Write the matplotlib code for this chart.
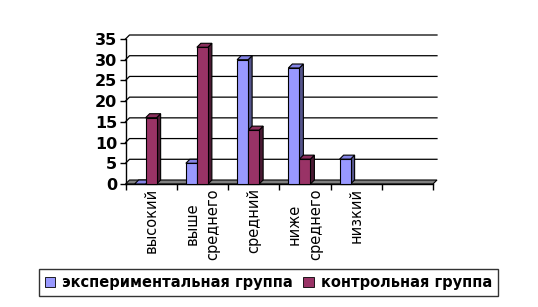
import matplotlib.pyplot as plt
from matplotlib.patches import Polygon, Patch

categories = ["высокий", "выше\nсреднего", "средний", "ниже\nсреднего", "низкий", ""]
exp_group = [0, 5, 30, 28, 6, None]
ctrl_group = [16, 33, 13, 6, None, None]
series_names = ["экспериментальная группа", "контрольная группа"]
yticks = [0, 5, 10, 15, 20, 25, 30, 35]

# face, top, side colours for each series
blue = ("#9999ff", "#8585e6", "#55558c")
red = ("#993366", "#8a2e5c", "#4a1a33")

fig = plt.figure(figsize=(5.38, 3.07), dpi=100)
ax = fig.add_axes([125.5 / 538, 1 - 184 / 307, (433 - 125.5) / 538, 145 / 307])
ax.set_xlim(-0.5, len(categories) - 0.5)
ax.set_ylim(0, 35)
for s in ax.spines.values():
    s.set_visible(False)

# depth of the 3d effect, in data units (about 4 px)
ddx = 4 / 51.25
ddy = 4 * 35 / 145
n = len(categories)

# back gridlines
for v in yticks[1:]:
    ax.plot([-0.5, -0.5 + ddx, n - 0.5 + ddx], [v, v + ddy, v + ddy],
            color="black", lw=0.9, clip_on=False, zorder=1)

# floor
ax.add_patch(Polygon([(-0.5, 0), (n - 0.5, 0), (n - 0.5 + ddx, ddy), (-0.5 + ddx, ddy)],
                     closed=True, facecolor="#808080", edgecolor="black", lw=0.8,
                     clip_on=False, zorder=2))

# axes lines and ticks
ax.plot([-0.5, -0.5], [0, 35], color="black", lw=1, clip_on=False, zorder=3)
ax.plot([-0.5, n - 0.5], [0, 0], color="black", lw=1, clip_on=False, zorder=3)
ax.set_yticks(yticks)
ax.set_xticks([i - 0.5 for i in range(n + 1)], minor=True)
ax.set_xticks(range(n))
ax.tick_params(axis="x", which="major", length=0, pad=3)
ax.tick_params(axis="x", which="minor", length=4, width=1, direction="out")
ax.tick_params(axis="y", length=4, width=1, direction="out", pad=2)
ax.set_xticklabels(categories, rotation=90, va="top", ha="center",
                   fontsize=10.5, family="DejaVu Sans", linespacing=1.5)
ax.set_yticklabels([str(v) for v in yticks], fontsize=11.5, fontweight="bold",
                   family="DejaVu Sans")


def bar3d(x0, w, h, cols):
    if h is None:
        return
    face, top, side = cols
    ax.add_patch(Polygon([(x0 + w, 0), (x0 + w + ddx, ddy), (x0 + w + ddx, h + ddy), (x0 + w, h)],
                         closed=True, facecolor=side, edgecolor="black", lw=0.8,
                         clip_on=False, zorder=4))
    ax.add_patch(Polygon([(x0, h), (x0 + w, h), (x0 + w + ddx, h + ddy), (x0 + ddx, h + ddy)],
                         closed=True, facecolor=top, edgecolor="black", lw=0.8,
                         clip_on=False, zorder=4))
    if h > 0:
        ax.bar(x0, h, width=w, align="edge", color=face, edgecolor="black",
               lw=0.8, zorder=5, clip_on=False)


bw = 0.215
for i in range(n):
    bar3d(i - 1.5 * bw, bw, exp_group[i], blue)
    bar3d(i - 0.5 * bw, bw, ctrl_group[i], red)

handles = [Patch(facecolor=blue[0], edgecolor="black", lw=0.6),
           Patch(facecolor=red[0], edgecolor="black", lw=0.6)]
leg = fig.legend(handles, series_names, loc="center", ncol=2,
                 bbox_to_anchor=(268.5 / 538, 1 - 282.5 / 307),
                 prop={"family": "DejaVu Sans", "weight": "bold", "size": 10.5},
                 frameon=True, fancybox=False, edgecolor="black",
                 handlelength=0.7, handleheight=0.7, handletextpad=0.5,
                 columnspacing=0.7, borderpad=0.4, borderaxespad=0)
leg.get_frame().set_linewidth(1)

fig.savefig("out.png", dpi=100)
